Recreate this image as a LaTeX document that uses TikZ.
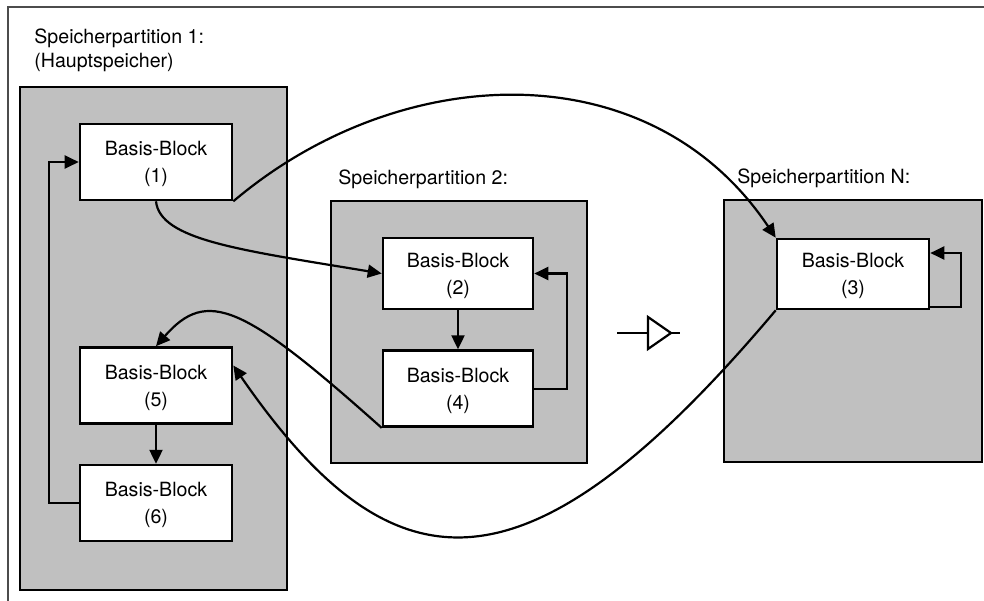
\documentclass[tikz,border=0pt]{standalone}
\usepackage{fontspec}
\setmainfont{TeX Gyre Heros}
\usepackage{xcolor}
\usetikzlibrary{arrows.meta,positioning}

\definecolor{partgray}{RGB}{192,192,192}

\begin{document}
\begin{tikzpicture}[
  x=0.5pt, y=-0.5pt,
  node distance=19.5pt,
  every node/.style={font=\fontsize{9.8}{13.5}\selectfont},
  partition/.style={draw, fill=partgray, line width=1.3pt, inner sep=0pt},
  block/.style={draw, fill=white, line width=1.3pt, minimum width=76pt,
                minimum height=38pt, align=center, inner sep=0pt, text depth=0pt},
  title/.style={inner sep=0pt, align=left, font=\fontsize{9.8}{12}\selectfont},
  link/.style={line width=1.1pt, -{Triangle[length=7pt,width=6.5pt]}},
  wire/.style={line width=1.1pt}
]
\useasboundingbox (0,0) rectangle (984,600);
\draw[line width=0.8pt, black!70] (8,7) rectangle (1010,620);

% partitions
\node[partition, minimum width=133.5pt, minimum height=251.5pt] (part1) at (153.5,338.5) {};
\node[partition, minimum width=128pt, minimum height=131pt]     (part2) at (459,332) {};
\node[partition, minimum width=129pt, minimum height=131pt]     (partN) at (853,331) {};

\node[title, anchor=north west] (lab1) at (34,28.5) {Speicherpartition 1:\\(Hauptspeicher)};
\node[title, anchor=base west]  (lab2) at (338,184) {Speicherpartition 2:};
\node[title, anchor=base west]  (labN) at (737,183) {Speicherpartition N:};

% basic blocks
\node[block]                                        (blk1) at (156,162)   {Basis-Block\\(1)};
\node[block]                                        (blk5) at (156,385.5) {Basis-Block\\(5)};
\node[block, below=of blk5]                         (blk6)                {Basis-Block\\(6)};
\node[block, minimum width=75pt, minimum height=35.5pt] (blk2) at (458,273.5) {Basis-Block\\(2)};
\node[block, minimum width=75pt, below=of blk2]     (blk4)                {Basis-Block\\(4)};
\node[block, minimum height=35pt]                   (blk3) at (853,274)   {Basis-Block\\(3)};

% control flow
\draw[link] (blk6.west) -- ++(-30,0) |- (blk1.west);
\draw[link] (blk5) -- (blk6);
\draw[link] (blk2) -- (blk4);
\draw[link] (blk4.east) -- ++(33,0) |- (blk2.east);
\draw[link] ([yshift=1.5pt]blk3.south east) -- ++(31,0) |- ([yshift=10.5pt]blk3.east);
\draw[link] (blk1.south) .. controls (160,240) and (240,250) .. (blk2.west);
\draw[link] (blk1.south east) .. controls (400,60) and (650,50) .. (blk3.north west);
\draw[link] (blk4.south west) .. controls (243,304) and (207,288) .. (blk5.north);
\draw[link] (blk3.south west) .. controls (524,609) and (391,594) .. ([yshift=10pt]blk5.east);

% buffer symbol
\draw[wire] (617,333) -- (648,333) (671,333) -- (680,333);
\draw[wire] (648,317) -- (671,333) -- (648,349) -- cycle;
\end{tikzpicture}
\end{document}
